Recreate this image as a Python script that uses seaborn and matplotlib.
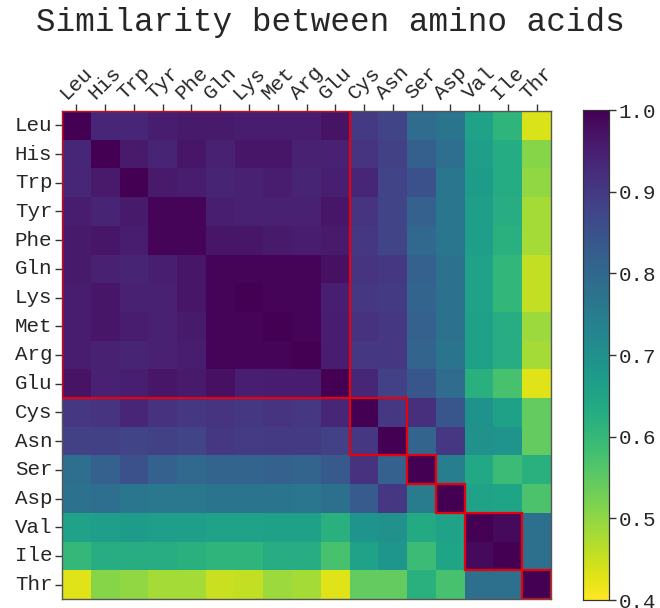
import matplotlib
matplotlib.use("Agg")
import matplotlib.pyplot as plt
import seaborn as sns
import numpy as np
import pandas as pd
from matplotlib.patches import Rectangle

amino_acids = ["Leu", "His", "Trp", "Tyr", "Phe", "Gln", "Lys", "Met", "Arg",
               "Glu", "Cys", "Asn", "Ser", "Asp", "Val", "Ile", "Thr"]

similarity = [
    [1.00, .935, .935, .955, .960, .960, .955, .955, .955, .970, .900, .880, .790, .770, .655, .610, .435],
    [.935, 1.00, .960, .940, .965, .945, .965, .965, .945, .945, .910, .885, .820, .785, .665, .630, .510],
    [.935, .960, 1.00, .960, .955, .940, .945, .955, .940, .950, .935, .880, .850, .765, .670, .630, .500],
    [.955, .940, .960, .995, .993, .950, .945, .945, .945, .965, .910, .880, .815, .765, .665, .625, .480],
    [.960, .965, .955, .993, .995, .965, .965, .960, .955, .960, .905, .880, .800, .765, .665, .620, .480],
    [.960, .945, .940, .950, .965, .995, .995, .995, .995, .975, .910, .905, .815, .775, .655, .605, .455],
    [.955, .965, .945, .945, .965, .995, .998, .995, .995, .950, .905, .900, .810, .775, .655, .605, .455],
    [.955, .965, .955, .945, .960, .995, .995, .998, .995, .955, .915, .905, .815, .775, .660, .625, .490],
    [.955, .945, .940, .945, .955, .995, .995, .995, .998, .955, .905, .905, .810, .770, .660, .625, .480],
    [.970, .945, .950, .965, .960, .975, .950, .955, .955, 1.00, .935, .885, .840, .790, .620, .575, .430],
    [.905, .910, .935, .915, .905, .910, .905, .910, .905, .935, 1.00, .905, .920, .840, .695, .660, .545],
    [.885, .885, .880, .885, .880, .905, .895, .900, .900, .885, .905, 1.00, .810, .905, .700, .690, .545],
    [.785, .815, .850, .815, .800, .810, .810, .815, .810, .835, .915, .815, 1.00, .745, .640, .590, .620],
    [.775, .785, .765, .760, .760, .770, .770, .770, .765, .780, .830, .905, .750, 1.00, .655, .650, .570],
    [.655, .665, .670, .665, .665, .655, .655, .660, .660, .620, .690, .700, .635, .655, 1.00, .985, .780],
    [.600, .625, .625, .625, .620, .610, .610, .625, .625, .575, .655, .685, .590, .650, .985, 1.00, .780],
    [.430, .510, .500, .480, .480, .450, .455, .490, .480, .430, .545, .545, .620, .575, .780, .780, 1.00],
]

# clusters: (start index, size)
cluster_starts = [0, 10, 12, 13, 14, 16]
cluster_sizes = [10, 2, 1, 1, 2, 1]

cbar_ticks = [0.4, 0.5, 0.6, 0.7, 0.8, 0.9, 1.0]

sns.set_theme(style="white")
plt.rcParams["font.family"] = ["Liberation Mono", "DejaVu Sans Mono"]

df = pd.DataFrame(similarity, index=amino_acids, columns=amino_acids)

fig = plt.figure(figsize=(6.6, 6.08), dpi=100)
ax = fig.add_axes([62 / 660, 9 / 608, 489 / 660, 488 / 608])
cax = fig.add_axes([583 / 660, 8 / 608, 26 / 660, 490 / 608])

sns.heatmap(df, ax=ax, cbar_ax=cax, cmap="viridis_r", vmin=0.4, vmax=1.0,
            square=False, cbar_kws={"ticks": cbar_ticks})

for s, n in zip(cluster_starts, cluster_sizes):
    ax.add_patch(Rectangle((s, s), n, n, fill=False, edgecolor="#e8000b",
                           linewidth=1.6, zorder=5))

ax.xaxis.tick_top()
ax.set_xlabel("")
ax.set_ylabel("")
ax.set_xticks(np.arange(len(amino_acids)) + 0.5)
ax.set_xticklabels(amino_acids, rotation=45, ha="center", fontsize=15)
ax.set_yticks(np.arange(len(amino_acids)) + 0.5)
ax.set_yticklabels(amino_acids, rotation=0, fontsize=15)
ax.tick_params(axis="both", which="both", length=5, width=1, color="#333333",
               direction="out", top=True, bottom=False, left=True, pad=2)
ax.tick_params(axis="x", pad=1)
for sp in ax.spines.values():
    sp.set_visible(True)
    sp.set_color("#555555")
    sp.set_linewidth(1)

cax.set_yticklabels(["0.4", "0.5", "0.6", "0.7", "0.8", "0.9", "1.0"], fontsize=15)
cax.tick_params(axis="y", length=5, width=1, color="#333333", direction="out", right=True, pad=2)
for sp in cax.spines.values():
    sp.set_visible(True)
    sp.set_color("#333333")
    sp.set_linewidth(0.8)

fig.suptitle("Similarity between amino acids", fontsize=23.5, x=0.5, y=1 - 22 / 608, va="center")

fig.savefig("out.png", dpi=100)
